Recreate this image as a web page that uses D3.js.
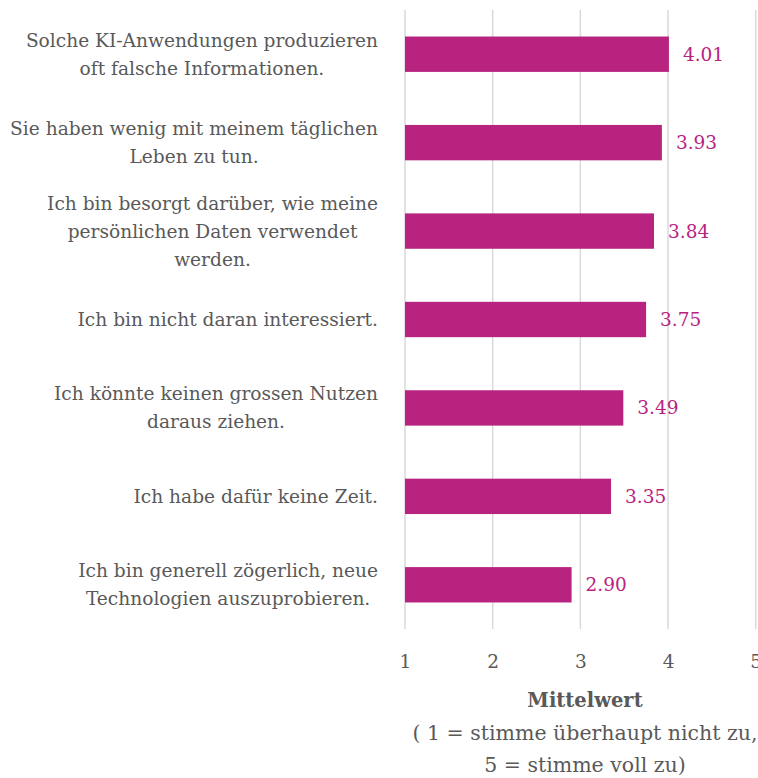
<!DOCTYPE html>
<html>
<head>
<meta charset="utf-8">
<script src="https://cdn.jsdelivr.net/npm/d3@7"></script>
<style>
  body { margin: 0; background: #fff; }
  text { font-family: "DejaVu Serif", serif; }
</style>
</head>
<body>
<div id="chart"></div>
<script>
// data
const labels = [
    ["Solche KI-Anwendungen produzieren", "oft falsche Informationen."],
    ["Sie haben wenig mit meinem täglichen", "Leben zu tun."],
    ["Ich bin besorgt darüber, wie meine", "persönlichen Daten verwendet", "werden."],
    ["Ich bin nicht daran interessiert."],
    ["Ich könnte keinen grossen Nutzen", "daraus ziehen."],
    ["Ich habe dafür keine Zeit."],
    ["Ich bin generell zögerlich, neue", "Technologien auszuprobieren."]
];
const values = [4.01, 3.93, 3.84, 3.75, 3.49, 3.35, 2.90];
const ticks = [1, 2, 3, 4, 5];
const axisTitle = "Mittelwert";
const axisNote = ["( 1 = stimme überhaupt nicht zu,", "5 = stimme voll zu)"];

// set dimensions
const width = 758,
    height = 778,
    margin = { top: 10, left: 405, right: 2, bottom: 149 };

const barColor = "#b8237f",
    textColor = "#595959",
    gridColor = "#d9d9d9";

const svg = d3.select("#chart")
    .append("svg")
    .attr("width", width)
    .attr("height", height);

// scales
const x = d3.scaleLinear()
    .domain([1, 5])
    .range([margin.left, margin.left + 350.7]);

const y = d3.scaleBand()
    .domain(d3.range(values.length))
    .range([margin.top, height - margin.bottom])
    .paddingInner(0.6)
    .paddingOuter(0.3);

// grid lines
svg.append("g")
    .selectAll("line")
    .data(ticks)
    .enter()
    .append("line")
    .attr("x1", d => x(d))
    .attr("x2", d => x(d))
    .attr("y1", margin.top)
    .attr("y2", height - margin.bottom)
    .attr("stroke", gridColor)
    .attr("stroke-width", 1.5);

// x axis
const xAxis = d3.axisBottom(x)
    .tickValues(ticks)
    .tickSize(0)
    .tickPadding(26)
    .tickFormat(d3.format("d"));

const axisG = svg.append("g")
    .attr("transform", "translate(0," + (height - margin.bottom) + ")")
    .call(xAxis);
axisG.select(".domain").remove();
axisG.selectAll("text")
    .attr("fill", textColor)
    .style("font-size", "18.5px")
    .style("font-family", null);

// axis title
const titleX = 585;
svg.append("text")
    .attr("x", titleX)
    .attr("y", 707)
    .attr("text-anchor", "middle")
    .attr("fill", textColor)
    .style("font-size", "19.5px")
    .style("font-weight", "bold")
    .text(axisTitle);

svg.append("text")
    .selectAll("tspan")
    .data(axisNote)
    .enter()
    .append("tspan")
    .attr("x", titleX)
    .attr("y", (d, i) => 740 + i * 32)
    .attr("text-anchor", "middle")
    .attr("fill", textColor)
    .style("font-size", "20.5px")
    .text(d => d);

// bars
svg.append("g")
    .selectAll("rect")
    .data(values)
    .enter()
    .append("rect")
    .attr("x", x(1))
    .attr("y", (d, i) => y(i))
    .attr("width", d => x(d) - x(1))
    .attr("height", y.bandwidth())
    .attr("fill", barColor);

// value labels
svg.append("g")
    .selectAll("text")
    .data(values)
    .enter()
    .append("text")
    .attr("x", d => x(d) + 14)
    .attr("y", (d, i) => y(i) + y.bandwidth() / 2)
    .attr("dy", "0.35em")
    .attr("fill", barColor)
    .style("font-size", "18.5px")
    .text(d => d.toFixed(2));

// category labels, lines centred inside a block that is right aligned
const labelRight = 378,
    lineH = 28;

const catG = svg.append("g");
labels.forEach((lines, i) => {
    const t = catG.append("text")
        .attr("fill", textColor)
        .attr("text-anchor", "middle")
        .style("font-size", "18.6px");
    const cy = y(i) + y.bandwidth() / 2;
    const top = cy - (lines.length - 1) * lineH / 2;
    const spans = t.selectAll("tspan")
        .data(lines)
        .enter()
        .append("tspan")
        .attr("y", (d, j) => top + j * lineH)
        .attr("dy", "0.35em")
        .text(d => d);
    let maxW = 0;
    spans.each(function() { maxW = Math.max(maxW, this.getComputedTextLength()); });
    spans.attr("x", labelRight - maxW / 2);
});
</script>
</body>
</html>
